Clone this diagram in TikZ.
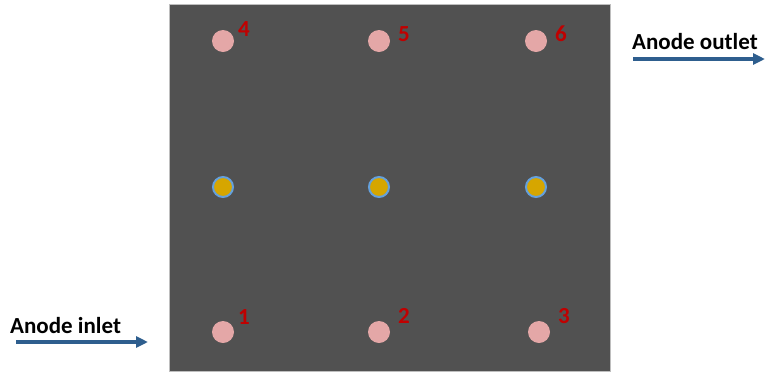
\documentclass[tikz,border=0pt]{standalone}
\usepackage{fontspec}
\setmainfont{Carlito}
\usetikzlibrary{arrows.meta}
\definecolor{plate}{RGB}{81,81,81}
\definecolor{platerim}{RGB}{190,190,190}
\definecolor{portpink}{RGB}{228,167,167}
\definecolor{labred}{RGB}{192,0,0}
\definecolor{goldfill}{RGB}{214,166,0}
\definecolor{ringblue}{RGB}{100,160,220}
\definecolor{flowblue}{RGB}{46,94,142}
\tikzset{
  port/.style={circle, fill=portpink, minimum size=22pt, inner sep=0pt},
  pin/.style={circle, fill=goldfill, draw=ringblue, line width=2pt, minimum size=20pt, inner sep=0pt},
  num/.style={text=labred, font=\bfseries\fontsize{23}{26}\selectfont, inner sep=0pt},
  flowlabel/.style={font=\bfseries\fontsize{23}{26}\selectfont, inner sep=0pt, anchor=west},
  flow/.style={draw=flowblue, line width=3.2pt, -{Triangle[length=12pt,width=11pt]}}
}
\begin{document}
\begin{tikzpicture}[x=1pt,y=-1pt]
\useasboundingbox (0,0) rectangle (769,373);
\node[draw=platerim, fill=plate, line width=0.6pt, minimum width=441pt, minimum height=367pt, inner sep=0pt, anchor=north west] (plate) at (169,4) {};
% ports
\node[port] (p4) at (223,41) {};
\node[port] (p5) at (379,41) {};
\node[port] (p6) at (536,41) {};
\node[port] (p1) at (223,332) {};
\node[port] (p2) at (379,332) {};
\node[port] (p3) at (539,332) {};
% pins
\node[pin] (m1) at (223,187) {};
\node[pin] (m2) at (379,187) {};
\node[pin] (m3) at (536,187) {};
% labels
\node[num] (l4) at (244,29) {4};
\node[num] (l5) at (404,34) {5};
\node[num] (l6) at (561,34) {6};
\node[num] (l1) at (244,317) {1};
\node[num] (l2) at (404,316) {2};
\node[num] (l3) at (564,316) {3};
% flows
\node[flowlabel] (inlet) at (10,326) {Anode inlet};
\coordinate (in0) at (16,342);
\coordinate (in1) at (148,342);
\draw[flow] (in0) -- (in1);
\node[flowlabel] (outlet) at (632,42) {Anode outlet};
\coordinate (out0) at (633,59);
\coordinate (out1) at (765,59);
\draw[flow] (out0) -- (out1);
\end{tikzpicture}
\end{document}
